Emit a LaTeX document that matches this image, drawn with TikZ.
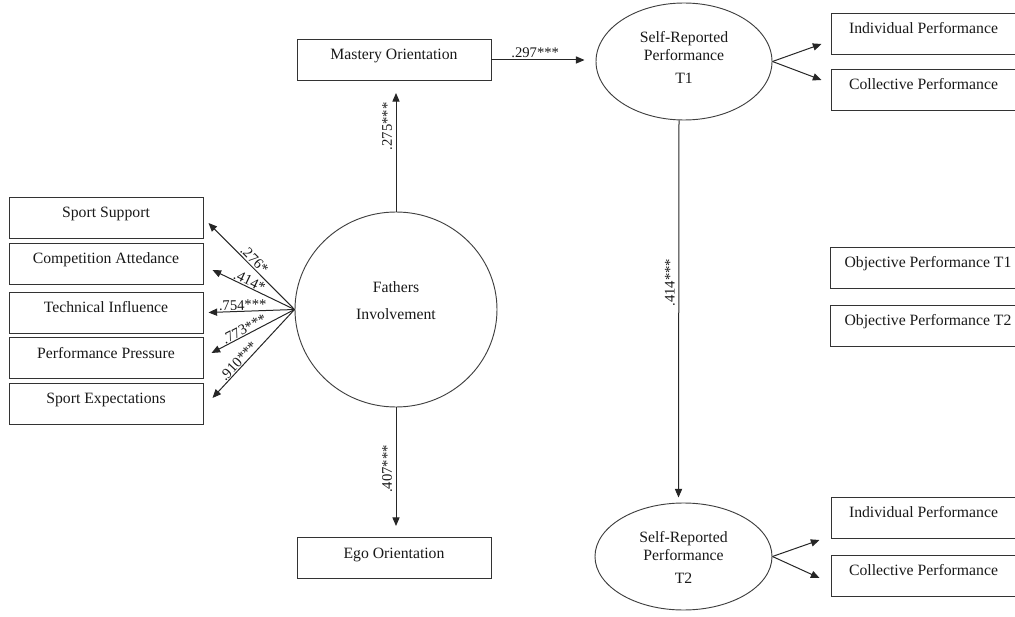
\documentclass[tikz,border=0pt]{standalone}
\usepackage{fontspec}
\setmainfont{Liberation Serif}
\usetikzlibrary{arrows.meta,shapes.geometric,calc}
\begin{document}
\begin{tikzpicture}[x=0.75pt,y=-0.75pt,
  every node/.style={font=\fontsize{11.8}{13.5}\selectfont, text=black!90},
  box/.style={draw=black!80, line width=0.7pt, rectangle, inner xsep=0pt, inner ysep=0pt,
    text height=15.4pt, text depth=15.4pt, minimum width=#1},
  box/.default=145.5pt,
  ell/.style={draw=black!75, line width=0.7pt, ellipse, inner sep=0pt},
  txt/.style={align=center, inner sep=0pt},
  lbl/.style={font=\fontsize{11}{12}\selectfont, inner sep=1.5pt},
  arr/.style={draw=black!85, line width=0.75pt, -{Triangle[length=6.5pt,width=5.4pt]}}
]
\useasboundingbox (0,0) rectangle (1015,617);
\clip (0,0) rectangle (1015,617);

% boxes
\node[box] (mast) at (394,60) {Mastery Orientation};
\node[box] (ego) at (394,558) {Ego Orientation};
\node[box] (ss) at (106,217.5) {Sport Support};
\node[box] (ca) at (106,263.5) {Competition Attedance};
\node[box] (ti) at (106,312.5) {Technical Influence};
\node[box] (pp) at (106,358) {Performance Pressure};
\node[box] (se) at (106,403.5) {Sport Expectations};
\node[box=138.75pt] (ip1) at (923.5,34) {Individual Performance};
\node[box=138.75pt] (cp1) at (923.5,90) {Collective Performance};
\node[box=147pt] (ob1) at (928,267.5) {Objective Performance T1};
\node[box=147pt] (ob2) at (928,325.5) {Objective Performance T2};
\node[box=138.75pt] (ip2) at (923.5,517.5) {Individual Performance};
\node[box=138.75pt] (cp2) at (923.5,575.5) {Collective Performance};

% latent variables
\node[ell, minimum width=151.5pt, minimum height=146.25pt] (fath) at (396,309.5) {};
\node[txt] (fathtxt) at (396,300.5) {Fathers\\[6.75pt]Involvement};
\node[ell, minimum width=132pt, minimum height=87.75pt] (srt1) at (684,61.5) {};
\node[txt] (srt1txt) at (684,57.5) {Self-Reported\\Performance\\[3.75pt]T1};
\node[ell, minimum width=132.75pt, minimum height=80.25pt] (srt2) at (683.5,556.5) {};
\node[txt] (srt2txt) at (683.5,557) {Self-Reported\\Performance\\[3.75pt]T2};

% paths
\draw[arr] (fath.north) -- ($(fath.north |- mast.south)+(0,12)$)
  node[lbl, rotate=90, anchor=south, pos=0.72, inner sep=2.5pt] {.275***};
\draw[arr] (fath.south) -- ($(fath.south |- ego.north)+(0,-11)$)
  node[lbl, rotate=90, anchor=south, pos=0.52, inner sep=2.5pt] {.407***};
\draw[arr] (mast.east) -- ($(mast.east -| srt1.west)+(-11,0)$)
  node[lbl, above, pos=0.47, inner sep=1pt] {.297***};
\draw[arr] ($(srt1.south)+(-5,0)$) -- ($(srt2.north)+(-5,-5)$)
  node[lbl, rotate=90, anchor=south, pos=0.43, inner sep=2.5pt] {.414***};

\draw[arr] (fath.west) -- ($(ss.east)+(5,5.5)$) node[lbl, sloped, above, pos=0.52, inner sep=1pt] {.276*};
\draw[arr] (fath.west) -- ($(ca.east)+(9,6.5)$) node[lbl, sloped, above, pos=0.58, inner sep=0.5pt] {.414*};
\draw[arr] (fath.west) -- ($(ti.east)+(5,0)$) node[lbl, sloped, above, pos=0.6, inner sep=0.5pt] {.754***};
\draw[arr] (fath.west) -- ($(pp.east)+(8,-5)$) node[lbl, sloped, above, pos=0.57, inner sep=0.5pt] {.773***};
\draw[arr] (fath.west) -- ($(se.east)+(9,-5.5)$) node[lbl, sloped, above, pos=0.63, inner sep=0.5pt] {.910***};

\draw[arr] (srt1.east) -- ($(ip1.west)+(-9,10)$);
\draw[arr] (srt1.east) -- ($(cp1.west)+(-9,-10)$);
\draw[arr] (srt2.east) -- ($(ip2.west)+(-11,22.5)$);
\draw[arr] (srt2.east) -- ($(cp2.west)+(-11,2.5)$);
\end{tikzpicture}
\end{document}
